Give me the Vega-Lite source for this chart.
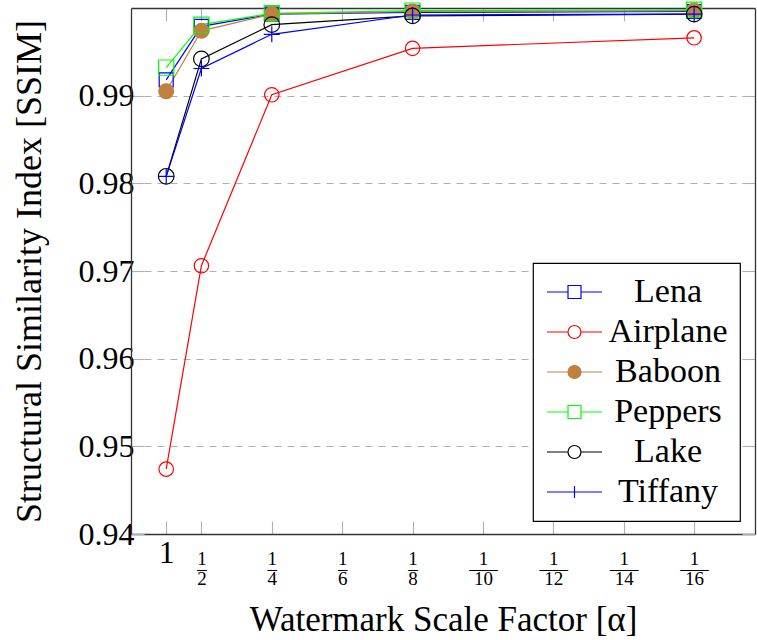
{
  "$schema": "https://vega.github.io/schema/vega-lite/v6.json",
  "width": 624,
  "height": 526,
  "autosize": "none",
  "padding": {"left": 131, "top": 8, "right": 2, "bottom": 106},
  "background": "white",
  "config": {
    "font": "Liberation Serif",
    "view": {"stroke": null},
    "axis": {
      "labelFont": "Liberation Serif",
      "titleFont": "Liberation Serif",
      "labelColor": "black",
      "titleColor": "black",
      "titleFontWeight": "normal",
      "domainColor": "#333333",
      "domainWidth": 1.3,
      "tickColor": "#b0b0b0",
      "tickWidth": 1.1,
      "tickSize": -13
    },
    "legend": {
      "labelFont": "Liberation Serif"
    }
  },
  "data": {
    "values": [
      {"series": "Lena", "x": 1, "ssim": 0.9918},
      {"series": "Lena", "x": 2, "ssim": 0.9979},
      {"series": "Lena", "x": 4, "ssim": 0.9993},
      {"series": "Lena", "x": 8, "ssim": 0.9995},
      {"series": "Lena", "x": 16, "ssim": 0.9996},
      {"series": "Airplane", "x": 1, "ssim": 0.9474},
      {"series": "Airplane", "x": 2, "ssim": 0.9706},
      {"series": "Airplane", "x": 4, "ssim": 0.9901},
      {"series": "Airplane", "x": 8, "ssim": 0.9954},
      {"series": "Airplane", "x": 16, "ssim": 0.9966},
      {"series": "Baboon", "x": 1, "ssim": 0.9905},
      {"series": "Baboon", "x": 2, "ssim": 0.9974},
      {"series": "Baboon", "x": 4, "ssim": 0.9993},
      {"series": "Baboon", "x": 8, "ssim": 0.9996},
      {"series": "Baboon", "x": 16, "ssim": 0.9997},
      {"series": "Peppers", "x": 1, "ssim": 0.9932},
      {"series": "Peppers", "x": 2, "ssim": 0.9981},
      {"series": "Peppers", "x": 4, "ssim": 0.9994},
      {"series": "Peppers", "x": 8, "ssim": 0.9997},
      {"series": "Peppers", "x": 16, "ssim": 0.9998},
      {"series": "Lake", "x": 1, "ssim": 0.9808},
      {"series": "Lake", "x": 2, "ssim": 0.9942},
      {"series": "Lake", "x": 4, "ssim": 0.9981},
      {"series": "Lake", "x": 8, "ssim": 0.9991},
      {"series": "Lake", "x": 16, "ssim": 0.9993},
      {"series": "Tiffany", "x": 1, "ssim": 0.9808},
      {"series": "Tiffany", "x": 2, "ssim": 0.9931},
      {"series": "Tiffany", "x": 4, "ssim": 0.997},
      {"series": "Tiffany", "x": 8, "ssim": 0.9992},
      {"series": "Tiffany", "x": 16, "ssim": 0.9993}
    ]
  },
  "layer": [
    {
      "mark": {"type": "line", "strokeWidth": 1.2},
      "encoding": {
        "x": {
          "field": "x", "type": "quantitative",
          "scale": {"domain": [0, 17.73], "nice": false, "zero": false},
          "axis": {
            "orient": "bottom",
            "values": [1, 2, 4, 6, 8, 10, 12, 14, 16],
            "grid": false,
            "labelExpr": "datum.value == 1 ? '1' : ['1', datum.value >= 10 ? '—–' : '–', '' + datum.value]",
            "labelFontSize": {"condition": {"test": "datum.value == 1", "value": 32}, "value": 19},
            "labelLineHeight": 10,
            "labelPadding": {"condition": {"test": "datum.value == 1", "value": 16}, "value": 28},
            "labelFlush": false,
            "labelOverlap": false,
            "title": "Watermark Scale Factor [α]",
            "titleFontSize": 35,
            "titlePadding": 14
          }
        },
        "y": {
          "field": "ssim", "type": "quantitative",
          "scale": {"domain": [0.94, 1.0], "nice": false, "zero": false},
          "axis": {
            "orient": "left",
            "values": [0.94, 0.95, 0.96, 0.97, 0.98, 0.99],
            "format": ".2f",
            "grid": true,
            "gridColor": "#b0b0b0",
            "gridDash": [7, 6],
            "gridWidth": 1.1,
            "labelFontSize": 32,
            "labelPadding": 10,
            "labelFlush": false,
            "labelOverlap": false,
            "title": "Structural Similarity Index [SSIM]",
            "titleFontSize": 36,
            "titlePadding": 30
          }
        },
        "color": {
          "field": "series", "type": "nominal",
          "scale": {
            "domain": ["Lena", "Airplane", "Baboon", "Peppers", "Lake", "Tiffany"],
            "range": ["#0000ff", "#ff0000", "#bf8040", "#00ff00", "#000000", "#0000ff"]
          },
          "legend": {
            "title": null,
            "orient": "none",
            "legendX": 402,
            "legendY": 255,
            "direction": "vertical",
            "padding": 12,
            "strokeColor": "black",
            "fillColor": "white",
            "symbolSize": 400,
            "symbolStrokeWidth": 1.2,
            "labelFontSize": 34,
            "labelColor": "black",
            "labelAlign": "center",
            "labelOffset": 89,
            "labelLimit": 400,
            "rowPadding": 6,
            "encode": {
              "legend": {"update": {"strokeWidth": {"value": 1.2}}},
              "symbols": {
                "update": {
                  "shape": {"signal": "(datum.value == 'Lena' || datum.value == 'Peppers') ? 'M-1.5,0H0.6M1.9,0H4M0.6,-0.65H1.9V0.65H0.6Z' : (datum.value == 'Airplane' || datum.value == 'Lake') ? 'M-1.5,0H0.6M1.9,0H4M1.9,0A0.65,0.65,0,1,1,0.6,0A0.65,0.65,0,1,1,1.9,0Z' : datum.value == 'Baboon' ? 'M-1.5,0H4M1.9,0A0.65,0.65,0,1,1,0.6,0A0.65,0.65,0,1,1,1.9,0Z' : 'M-1.5,0H4M1.25,-0.6V0.6'"},
                  "fill": {"signal": "datum.value == 'Baboon' ? '#bf8040' : 'transparent'"}
                }
              }
            }
          }
        }
      }
    },
    {
      "mark": {"type": "point", "filled": false, "strokeWidth": 1.2, "opacity": 1},
      "encoding": {
        "x": {
          "field": "x", "type": "quantitative",
          "axis": {
            "orient": "top",
            "values": [1, 2, 4, 6, 8, 10, 12, 14, 16],
            "labels": false,
            "grid": false,
            "title": null
          }
        },
        "y": {
          "field": "ssim", "type": "quantitative",
          "axis": {
            "orient": "right",
            "values": [0.94, 0.95, 0.96, 0.97, 0.98, 0.99],
            "labels": false,
            "grid": false,
            "title": null
          }
        },
        "color": {
          "field": "series", "type": "nominal",
          "scale": {
            "domain": ["Lena", "Airplane", "Baboon", "Peppers", "Lake", "Tiffany"],
            "range": ["#0000ff", "#ff0000", "#bf8040", "#00ff00", "#000000", "#0000ff"]
          },
          "legend": null
        },
        "shape": {
          "field": "series", "type": "nominal",
          "scale": {
            "domain": ["Lena", "Airplane", "Baboon", "Peppers", "Lake", "Tiffany"],
            "range": ["square", "circle", "circle", "square", "circle", "M-1,0H1M0,-1V1"]
          },
          "legend": null
        },
        "fill": {
          "field": "series", "type": "nominal",
          "scale": {
            "domain": ["Lena", "Airplane", "Baboon", "Peppers", "Lake", "Tiffany"],
            "range": ["transparent", "transparent", "#bf8040", "transparent", "transparent", "transparent"]
          },
          "legend": null
        },
        "size": {
          "field": "series", "type": "nominal",
          "scale": {
            "domain": ["Lena", "Airplane", "Baboon", "Peppers", "Lake", "Tiffany"],
            "range": [196, 256, 256, 196, 256, 196]
          },
          "legend": null
        }
      }
    }
  ],
  "resolve": {"axis": {"x": "independent", "y": "independent"}, "scale": {"color": "independent"}}
}
